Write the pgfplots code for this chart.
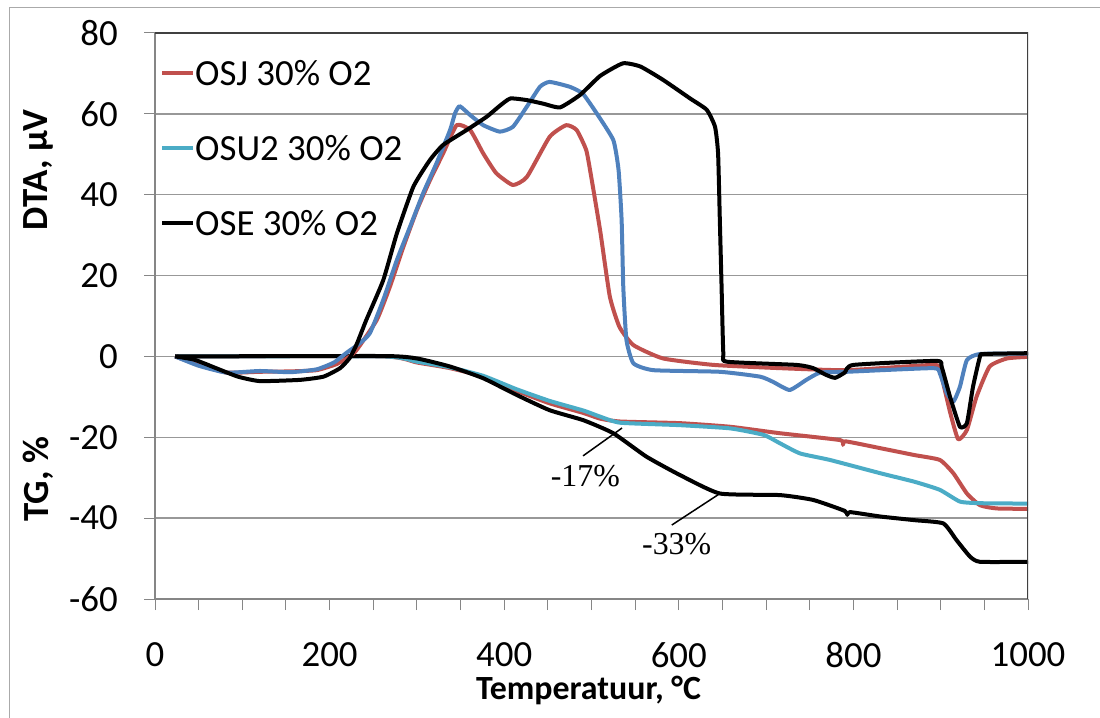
\documentclass[border=0pt]{standalone}
\usepackage{fontspec}
\setmainfont{Carlito}
\newfontfamily\timesfont{Liberation Serif}
\usepackage{pgfplots}
\pgfplotsset{compat=1.18}
\definecolor{osj}{HTML}{C0504D}
\definecolor{osu}{HTML}{4F81BD}
\definecolor{osutg}{HTML}{4BACC6}
\definecolor{axgray}{HTML}{868686}

\newcommand{\bigfont}{\fontsize{37}{44}\selectfont}

\begin{document}
\begin{tikzpicture}
\useasboundingbox (0bp,0bp) rectangle (1100bp,-718bp);
\draw[axgray!70, line width=1bp] (9bp,-718bp) -- (9bp,-7bp) -- (1100bp,-7bp);
\begin{axis}[
  at={(155bp,-599bp)}, anchor=south west,
  scale only axis, width=873bp, height=566bp,
  xmin=0, xmax=1000, ymin=-60, ymax=80,
  xtick={0,200,...,1000}, ytick={-60,-40,...,80},
  minor x tick num=3,
  axis x line*=bottom, axis y line*=left,
  axis line style={draw=axgray, line width=1.2bp, -},
  tick align=outside,
  major tick length=11bp, minor tick length=11bp,
  every tick/.style={draw=axgray, line width=1bp},
  ymajorgrids, grid style={draw=axgray!85, line width=1.3bp},
  /pgf/number format/assume math mode=true,
  /pgf/number format/1000 sep={},
  tick label style={font=\bigfont, inner sep=0pt},
  xticklabel style={anchor=center, yshift=-45bp},
  yticklabel style={anchor=east, xshift=-26bp},
  xlabel={\textbf{Temperatuur, °C}},
  xlabel style={font=\fontsize{34}{40}\selectfont, at={(rel axis cs:0.5,0)}, anchor=center, yshift=-91bp, xshift=-3bp},
  legend style={at={(axis description cs:0,1)}, anchor=north west, yshift=-24bp, xshift=2bp,
    draw=none, fill=none, font=\bigfont, row sep=49bp, column sep=0bp,
    nodes={inner sep=0pt, text height=26bp, text depth=0bp}},
  legend cell align=left,
  legend image code/.code={\draw[#1, line width=4bp] (0bp,-1bp) -- (31bp,-1bp);},
  line join=round,
  every axis plot/.append style={line width=4bp, smooth, tension=0.3},
]
% TG curves (legend entries)
\addplot[osj] coordinates {
 (23,0) (262,0) (300,-1.5) (338,-2.9) (376,-5.0) (414,-8.5) (452,-11.6) (491,-14.0)
 (510,-15.4) (533,-16.1) (601,-16.5) (659,-17.4) (716,-19.0) (785,-20.7) (788,-21.9)
 (791,-21.0) (831,-22.7) (870,-24.4) (899,-25.6) (914.5,-28.9) (930,-33.9) (945,-36.8)
 (964,-37.6) (1000,-37.7)};
\addlegendentry{OSJ 30\% O2}
\addplot[osutg] coordinates {
 (23,0) (262,0) (300,-1.3) (338,-2.7) (376,-4.8) (414,-8.1) (452,-11.0) (491,-13.4)
 (510,-14.9) (533,-16.4) (601,-17.0) (659,-17.8) (697,-19.4) (716,-21.5) (739,-24.0)
 (773,-25.6) (831,-28.9) (870,-31.0) (899,-33.0) (922,-35.9) (945,-36.3) (1000,-36.4)};
\addlegendentry{OSU2 30\% O2}
\addplot[black] coordinates {
 (23,0) (262,0.1) (300,-0.5) (338,-2.5) (376,-5.4) (414,-9.5) (452,-13.3) (491,-15.8)
 (525,-19.0) (563,-24.8) (601,-29.3) (647,-33.9) (716,-34.3) (754,-35.5) (790,-38.2)
 (793,-39.2) (796,-38.5) (831,-39.6) (870,-40.5) (903,-41.3) (918,-45.4) (933.5,-49.5)
 (945,-50.8) (1000,-50.8)};
\addlegendentry{OSE 30\% O2}
% DTA curves
\addplot[osj, forget plot] coordinates {
 (23,0) (50,-2.0) (82,-4.0) (120,-3.8) (155,-3.7) (185,-3.4) (208,-1.9) (223,0) (231,1.6)
 (254,9) (269,17.2) (284.5,27.1) (300,36.2) (315,43.6) (330,50.2) (345.5,57.2) (361,56)
 (376,50.2) (391,45.3) (410,42.4) (426,44.4) (452,54.3) (471,57.2) (483,56) (494,51)
 (500,44) (510,31) (521,14.8) (532,7.3) (548,2.8) (582,-0.5) (640,-2.1) (716,-2.9)
 (792,-3.4) (891,-2.1) (899,-3.4) (911,-14) (920,-20.5) (930,-18.2) (941,-10) (956,-2.5)
 (976,-0.5) (1000,-0.1)};
\addplot[osu, forget plot] coordinates {
 (23,0) (50,-2.3) (82,-4.0) (120,-3.6) (155,-3.9) (185,-3.2) (205,-1.5) (220,1) (233,3)
 (246,5.7) (261.5,14) (277,23.8) (292,32) (307,40.3) (322.5,47.8) (338,56) (343.6,60.1)
 (349,61.9) (361,59.7) (376,57.2) (395,55.6) (410,56.8) (426,61.8) (441,66.7) (452,67.9)
 (475,66.7) (490,65) (506,60.1) (525,53.5) (531,46.1) (534.5,33.7) (536.4,17.2) (540,4.1)
 (548,-1.7) (571,-3.4) (647,-3.8) (693,-5.0) (708,-6.3) (727,-8.3) (746,-5.8) (762,-4.0)
 (792,-3.8) (891,-2.9) (899,-4.2) (907,-9.1) (914.5,-11.2) (922,-7.5) (930,-0.9)
 (945,0.6) (1000,0.7)};
\addplot[black, forget plot] coordinates {
 (23,0) (45,-0.8) (70,-2.9) (95,-5.0) (120,-6.1) (166,-5.8) (193,-5.0) (212,-2.9)
 (223,-0.4) (231,3) (242,9) (261.5,18.9) (277,30.4) (296,42) (315,48.6) (330,52.3)
 (357,56) (380,59.3) (395,62) (407,63.8) (426,63.4) (445,62.5) (464,61.6) (487,64.7)
 (510,69.4) (536,72.5) (556,71.7) (582,68.4) (613,63.8) (632,61) (641.5,56.8) (645,50.2)
 (647,33.7) (649,17.2) (651,0.8) (655,-1.3) (735,-2.1) (754,-2.9) (768,-4.5) (779,-5.3)
 (790,-4) (800,-2.1) (895,-1.1) (901,-2.5) (910.7,-10) (922,-17.4) (930,-16.5) (937,-7.5)
 (945,0) (949,0.6) (1000,0.8)};
% frame top and right
\draw[black!75, line width=1.2bp] (rel axis cs:0,1) -- (rel axis cs:1,1) -- (rel axis cs:1,0);
% annotations
\draw[black, line width=1.5bp] (axis cs:490.3,-24.6) -- (axis cs:535,-17.7);
\node[font=\timesfont\fontsize{32}{38}\selectfont] at (axis cs:493,-29.6) {-17\%};
\draw[black, line width=1.5bp] (axis cs:592,-41.7) -- (axis cs:647.2,-33.9);
\node[font=\timesfont\fontsize{32}{38}\selectfont] at (axis cs:597.6,-46.3) {-33\%};
\end{axis}
\node[rotate=90, font=\bfseries\fontsize{37}{44}\selectfont] at (38bp,-170bp) {DTA, µV};
\node[rotate=90, font=\bfseries\fontsize{37}{44}\selectfont] at (38bp,-479bp) {TG, \%};
\end{tikzpicture}
\end{document}
